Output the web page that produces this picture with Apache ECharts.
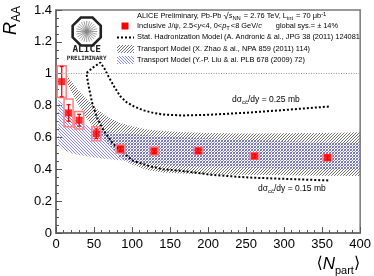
<!DOCTYPE html>
<html><head><meta charset="utf-8">
<script src="https://cdn.jsdelivr.net/npm/echarts@6/dist/echarts.min.js"></script>
<style>html,body{margin:0;padding:0;background:#fff}#c{width:374px;height:276px}</style>
</head><body><div id="c"></div>
<script>
// ---- data ----
const npart   = [357, 261, 187, 129, 85, 53, 30.5, 16.5, 7.5];
const raa     = [0.473, 0.483, 0.516, 0.514, 0.527, 0.623, 0.708, 0.754, 0.950];
const statErr = [0.010, 0.010, 0.012, 0.013, 0.016, 0.030, 0.037, 0.052, 0.095];
const sysErr  = [0.020, 0.020, 0.020, 0.025, 0.025, 0.044, 0.055, 0.087, 0.100];

// Statistical hadronization model (path: 0.15 mb branch right->left, then 0.25 mb branch left->right)
const shmN = [358, 300, 254, 205, 166, 141, 123, 102, 85, 74, 63, 54, 47.5, 43, 40, 49, 58.4, 64, 69.3, 77, 84.6, 93, 102, 115, 128, 141, 166, 200, 250, 300, 361];
const shmR = [0.330, 0.340, 0.348, 0.365, 0.390, 0.400, 0.420, 0.452, 0.515, 0.567, 0.640, 0.723, 0.817, 0.920, 1.004, 1.040, 1.070, 1.030, 0.980, 0.915, 0.858, 0.820, 0.796, 0.770, 0.754, 0.744, 0.738, 0.742, 0.755, 0.772, 0.795];

// Transport model, Zhao et al.
const zhaoN  = [15, 20, 30, 40, 50, 60, 70, 85, 100, 120, 140, 170, 200, 250, 300, 350, 400];
const zhaoHi = [0.985, 0.955, 0.895, 0.845, 0.795, 0.755, 0.725, 0.690, 0.670, 0.650, 0.640, 0.632, 0.628, 0.625, 0.626, 0.628, 0.632];
const zhaoLo = [0.940, 0.890, 0.800, 0.720, 0.660, 0.610, 0.550, 0.470, 0.430, 0.395, 0.380, 0.372, 0.368, 0.365, 0.362, 0.360, 0.358];

// Transport model, Liu et al.
const liuN  = [3, 10, 20, 30, 45, 60, 75, 100, 130, 170, 200, 250, 300, 350, 400];
const liuHi = [0.840, 0.800, 0.740, 0.700, 0.665, 0.645, 0.630, 0.620, 0.610, 0.600, 0.595, 0.585, 0.577, 0.570, 0.565];
const liuLo = [0.550, 0.520, 0.500, 0.490, 0.478, 0.468, 0.462, 0.448, 0.430, 0.420, 0.415, 0.410, 0.405, 0.402, 0.400];

const xTicks = [0, 50, 100, 150, 200, 250, 300, 350, 400];
const yTicks = [0, 0.2, 0.4, 0.6, 0.8, 1, 1.2, 1.4];

// ---- patterns ----
function hatch(color, dir, size) {
  const c = document.createElement('canvas');
  c.width = c.height = size;
  const g = c.getContext('2d');
  g.fillStyle = color;
  for (let i = 0; i < size; i++) {
    if (dir > 0) g.fillRect(i, size - 1 - i, 1, 1);
    else g.fillRect(i, i, 1, 1);
  }
  return c;
}
const greyPat = { image: hatch('#707070', 1, 3), repeat: 'repeat' };
const bluePat = { image: hatch('#8a8aff', -1, 3), repeat: 'repeat' };

const FONT = '"Liberation Sans", Arial, Helvetica, sans-serif';

function bandSeries(name, ns, hi, lo, pat, z) {
  return {
    type: 'custom', name, z,
    data: ns.map((n, i) => [n, hi[i], lo[i]]),
    encode: { x: 0, y: [1, 2] },
    renderItem: (params, api) => {
      if (params.dataIndex !== 0) return null;
      const pts = [];
      for (let i = 0; i < ns.length; i++) pts.push(api.coord([ns[i], hi[i]]));
      for (let i = ns.length - 1; i >= 0; i--) pts.push(api.coord([ns[i], lo[i]]));
      return { type: 'polygon', shape: { points: pts }, style: { fill: pat, stroke: null } };
    }
  };
}

const chart = echarts.init(document.getElementById('c'), null, { renderer: 'canvas' });

const LF = 7.4;
const legendRich = {
  n: { fontSize: LF, fontFamily: FONT, color: '#000', verticalAlign: 'top', lineHeight: 8 },
  i: { fontSize: LF, fontFamily: FONT, color: '#000', fontStyle: 'italic', verticalAlign: 'top', lineHeight: 8 },
  r: { fontSize: 9.5, fontFamily: FONT, color: '#000', verticalAlign: 'top', lineHeight: 8, padding: [-1, 0, 0, 0] },
  sub: { fontSize: 5.8, fontFamily: FONT, color: '#000', verticalAlign: 'top', padding: [3, 1, 0, 0], lineHeight: 5 },
  sup: { fontSize: 5.8, fontFamily: FONT, color: '#000', verticalAlign: 'top', padding: [-1, 0, 0, 0], lineHeight: 5 },
  gap: { width: 14, fontSize: LF, lineHeight: 8, verticalAlign: 'top' }
};
const annRich = {
  n: { fontSize: 8.5, fontFamily: FONT, color: '#000', verticalAlign: 'top', lineHeight: 10 },
  sub: { fontSize: 6, fontFamily: FONT, color: '#000', verticalAlign: 'top', padding: [4, 0, 0, 0], lineHeight: 6 }
};

function ltext(y, text) {
  return { type: 'text', left: 137, top: y - 4, z: 10, style: { text, rich: legendRich, fill: '#000' } };
}

// ALICE logo octagon
const cx = 86.7, cy = 31.5, rv = 15.2;
const oct = [];
for (let k = 0; k < 8; k++) {
  const a = Math.PI / 8 + k * Math.PI / 4;
  oct.push([cx + rv * Math.cos(a), cy + rv * Math.sin(a)]);
}
const rays = [];
for (let k = 0; k < 24; k++) {
  const a = k * Math.PI / 12;
  rays.push({ type: 'line', z: 10, shape: { x1: cx, y1: cy, x2: cx + 10.5 * Math.cos(a), y2: cy + 10.5 * Math.sin(a) }, style: { stroke: '#888', lineWidth: 0.8 } });
}

chart.setOption({
  animation: false,
  grid: { left: 56, right: 12, top: 10, bottom: 42, show: true, borderColor: '#777', borderWidth: 1.5, backgroundColor: 'transparent' },
  xAxis: {
    type: 'value', min: xTicks[0], max: xTicks[xTicks.length - 1], interval: 50,
    axisLine: { show: true, onZero: false, lineStyle: { color: '#666', width: 1.5 } },
    axisTick: { show: true, inside: true, length: 6, lineStyle: { color: '#555', width: 1 } },
    minorTick: { show: true, splitNumber: 5, length: 3, lineStyle: { color: '#555', width: 1 } },
    splitLine: { show: false },
    axisLabel: { fontSize: 13, color: '#000', fontFamily: FONT, margin: 5 },
    name: '{a|⟨}{n|N}{s|part}{a|⟩}',
    nameLocation: 'end', nameGap: 0,
    nameTextStyle: {
      align: 'right', verticalAlign: 'top', padding: [23, 0, 0, 0],
      rich: {
        a: { fontSize: 16, fontFamily: '"DejaVu Sans"', color: '#000', verticalAlign: 'top', lineHeight: 18 },
        n: { fontSize: 17, fontFamily: FONT, fontStyle: 'italic', color: '#000', verticalAlign: 'top', lineHeight: 18 },
        s: { fontSize: 11, fontFamily: FONT, color: '#000', verticalAlign: 'top', padding: [9, 0, 0, 0], lineHeight: 11 }
      }
    }
  },
  yAxis: {
    type: 'value', min: yTicks[0], max: yTicks[yTicks.length - 1], interval: 0.2,
    axisLine: { show: true, onZero: false, lineStyle: { color: '#666', width: 1.5 } },
    axisTick: { show: true, inside: true, length: 6, lineStyle: { color: '#555', width: 1 } },
    minorTick: { show: true, splitNumber: 4, length: 3, lineStyle: { color: '#555', width: 1 } },
    splitLine: { show: false },
    axisLabel: { fontSize: 13, color: '#000', fontFamily: FONT, margin: 4, formatter: v => String(+v.toFixed(1)) },
    name: '{r|R}{s|AA}',
    nameLocation: 'end', nameRotate: 90, nameGap: 4,
    nameTextStyle: {
      align: 'right', verticalAlign: 'bottom', padding: [0, 0, 34, 0],
      rich: {
        r: { fontSize: 18, fontFamily: FONT, fontStyle: 'italic', color: '#000', verticalAlign: 'top', lineHeight: 20 },
        s: { fontSize: 12, fontFamily: FONT, color: '#000', verticalAlign: 'top', padding: [9, 0, 0, 0], lineHeight: 12 }
      }
    }
  },
  graphic: [
    // logo
    { type: 'polygon', z: 10, shape: { points: oct }, style: { fill: '#fff', stroke: '#222', lineWidth: 2.6 } },
    ...rays,
    { type: 'circle', z: 10, shape: { cx, cy, r: 2 }, style: { fill: '#888' } },
    { type: 'text', x: cx, y: 49.7, z: 10, style: { text: 'ALICE', align: 'center', verticalAlign: 'middle', font: 'bold 9.5px "DejaVu Sans Mono", monospace', fill: '#222' } },
    { type: 'text', x: cx, y: 58, z: 10, style: { text: 'PRELIMINARY', align: 'center', verticalAlign: 'middle', font: 'bold 6px "DejaVu Sans Mono", monospace', fill: '#222' } },
    // legend
    ltext(15, '{n|ALICE Preliminary, Pb-Pb }{r|√}{i|s}{sub|NN}{n| = 2.76 TeV, L}{sub|int}{n| = 70 μb}{sup|-1}'),
    { type: 'rect', z: 10, shape: { x: 121.5, y: 22.5, width: 7, height: 7 }, style: { fill: '#ff0000' } },
    ltext(26, '{n|Inclusive J/ψ, 2.5<}{i|y}{n|<4, 0<}{i|p}{sub|T}{n|<8 GeV/}{i|c}{gap|}{n|global sys.= ± 14%}'),
    { type: 'line', z: 10, shape: { x1: 117, y1: 37.5, x2: 134, y2: 37.5 }, style: { stroke: '#000', lineWidth: 2, lineDash: [2, 2] } },
    ltext(37.5, '{n|Stat. Hadronization Model (A. Andronic & al., JPG 38 (2011) 124081}'),
    { type: 'rect', z: 10, shape: { x: 117, y: 45, width: 17, height: 8 }, style: { fill: greyPat } },
    ltext(49, '{n|Transport Model (X. Zhao & al., NPA 859 (2011) 114)}'),
    { type: 'rect', z: 10, shape: { x: 117, y: 56, width: 17, height: 8 }, style: { fill: bluePat } },
    ltext(60, '{n|Transport Model (Y.-P. Liu & al. PLB 678 (2009) 72)}'),
    // curve annotations
    { type: 'text', left: 232, top: 95, z: 10, style: { text: '{n|dσ}{sub|cc̄}{n|/dy = 0.25 mb}', rich: annRich } },
    { type: 'text', left: 258, top: 184, z: 10, style: { text: '{n|dσ}{sub|cc̄}{n|/dy = 0.15 mb}', rich: annRich } }
  ],
  series: [
    bandSeries('Zhao', zhaoN, zhaoHi, zhaoLo, greyPat, 1),
    bandSeries('Liu', liuN, liuHi, liuLo, bluePat, 2),
    {
      type: 'line', name: 'SHM', z: 3,
      data: shmN.map((n, i) => [n, shmR[i]]),
      showSymbol: false, symbol: 'none',
      lineStyle: { color: '#000', width: 2, type: [2, 2] }
    },
    {
      type: 'custom', name: 'errors', z: 4,
      data: npart.map((n, i) => [n, raa[i], statErr[i], sysErr[i]]),
      encode: { x: 0, y: 1 },
      renderItem: (params, api) => {
        const x = api.value(0), y = api.value(1), st = api.value(2), sy = api.value(3);
        const c = api.coord([x, y]);
        const sHi = api.coord([x, y + st]), sLo = api.coord([x, y - st]);
        const bHi = api.coord([x, y + sy]), bLo = api.coord([x, y - sy]);
        const hw = 4.5, cw = 2;
        return { type: 'group', children: [
          { type: 'rect', shape: { x: c[0] - hw, y: bHi[1], width: 2 * hw, height: bLo[1] - bHi[1] }, style: { fill: 'none', stroke: '#ff8080', lineWidth: 1.5 } },
          { type: 'line', shape: { x1: c[0], y1: sHi[1], x2: c[0], y2: sLo[1] }, style: { stroke: '#ff0000', lineWidth: 1.3 } },
          { type: 'line', shape: { x1: c[0] - cw, y1: sHi[1], x2: c[0] + cw, y2: sHi[1] }, style: { stroke: '#ff0000', lineWidth: 1.3 } },
          { type: 'line', shape: { x1: c[0] - cw, y1: sLo[1], x2: c[0] + cw, y2: sLo[1] }, style: { stroke: '#ff0000', lineWidth: 1.3 } }
        ] };
      }
    },
    {
      type: 'scatter', name: 'J/psi', z: 5,
      data: npart.map((n, i) => [n, raa[i]]),
      symbol: 'rect', symbolSize: 7,
      itemStyle: { color: '#ff0000' },
      markLine: {
        silent: true, symbol: 'none', label: { show: false },
        lineStyle: { color: '#999', type: [1, 1.5], width: 1 },
        data: [{ yAxis: 1 }]
      }
    }
  ]
});
</script>
</body></html>
